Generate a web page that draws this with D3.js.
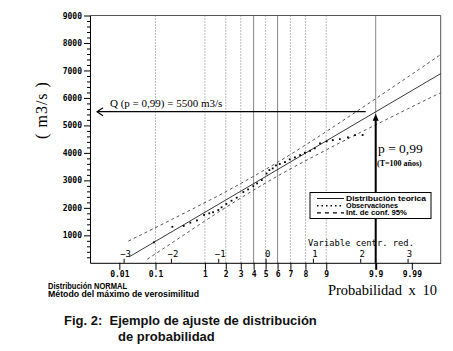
<!DOCTYPE html>
<html>
<head>
<meta charset="utf-8">
<script src="https://cdn.jsdelivr.net/npm/d3@7"></script>
<style>
  body { margin: 0; background: #fff; }
  svg { display: block; }
  .mono { font-family: "DejaVu Sans Mono", monospace; }
  .serif { font-family: "Liberation Serif", "Times New Roman", serif; }
  .narrow { font-family: "Liberation Sans", Arial, sans-serif; font-weight: bold; }
</style>
</head>
<body>
<div id="chart"></div>
<script>
// Chart size
const width = 453;
const height = 351;
const plot = {left: 90, right: 440.7, top: 15.5, bottom: 262.8};

// Probability axis (x 10 labels) and grid
const probTicks = [0.001, 0.01, 0.1, 0.2, 0.3, 0.4, 0.5, 0.6, 0.7, 0.8, 0.9, 0.99, 0.999];
const probLabels = ["0.01", "0.1", "1", "2", "3", "4", "5", "6", "7", "8", "9", "9.9", "9.99"];
const gridProbs = [0.01, 0.1, 0.2, 0.3, 0.4, 0.5, 0.6, 0.7, 0.8, 0.9, 0.99];
const darkGridProbs = [0.4, 0.6, 0.99];

// Reduced variable ticks
const zTicks = [-3, -2, -1, 0, 1, 2, 3];

// Discharge ticks
const qTicks = [1000, 2000, 3000, 4000, 5000, 6000, 7000, 8000, 9000];
const qMinor = d3.range(200, 9000, 200).filter(d => d % 1000 !== 0);

// Fitted distribution (reduced variable z, discharge)
const teoZ = [-2.88, 3.70];
const teoQ = [220, 6885];

// 95% confidence band
const bandZ = [-2.9, -2.5, -2.0, -1.5, -1.0, -0.5, 0, 0.5, 1.0, 1.5, 2.0, 2.5, 3.0, 3.7];
const bandUpper = [790, 1130, 1560, 2000, 2440, 2910, 3400, 3915, 4460, 5025, 5595, 6175, 6755, 7580];
const bandLower = [null, 130, 700, 1275, 1840, 2385, 2905, 3395, 3855, 4305, 4740, 5170, 5600, 6190];

// Observations
const obsZ = [-2.36, -1.97, -1.73, -1.59, -1.45, -1.30, -1.19, -1.11, -1.00, -0.93, -0.83, -0.72,
              -0.61, -0.47, -0.37, -0.26, -0.18, -0.08, 0.02, 0.08, 0.15, 0.22, 0.30, 0.41,
              0.51, 0.62, 0.73, 0.83, 0.94, 1.04, 1.15, 1.29, 1.42, 1.57, 1.74, 1.89, 2.05];
const obsQ = [745, 1310, 1340, 1460, 1545, 1740, 1800, 1840, 1920, 2020, 2140, 2260,
              2370, 2575, 2670, 2790, 2890, 3010, 3250, 3375, 3435, 3545, 3595, 3665,
              3765, 3835, 3920, 4005, 4075, 4165, 4345, 4420, 4465, 4500, 4565, 4645, 4650];

// Design flood
const pDesign = 0.99;
const qDesign = 5500;

// Normal distribution helpers for the probability paper
function normCdf(z) {
    const t = 1 / (1 + 0.3275911 * Math.abs(z) / Math.SQRT2);
    const e = 1 - (((((1.061405429 * t - 1.453152027) * t) + 1.421413741) * t - 0.284496736) * t + 0.254829592) * t * Math.exp(-z * z / 2);
    return z >= 0 ? (1 + e) / 2 : (1 - e) / 2;
}
function probit(p) {
    let lo = -6, hi = 6;
    for (let i = 0; i < 60; i++) {
        const m = (lo + hi) / 2;
        if (normCdf(m) < p) lo = m; else hi = m;
    }
    return (lo + hi) / 2;
}

const svg = d3.select("#chart")
    .append("svg")
    .attr("width", width)
    .attr("height", height);

svg.append("rect").attr("width", width).attr("height", height).attr("fill", "#fff");

const x = d3.scaleLinear().domain([-3.71, 3.70]).range([plot.left, plot.right]);
const y = d3.scaleLinear().domain([0, 9000]).range([plot.bottom, plot.top]);

// Vertical grid lines
svg.append("g")
    .selectAll("line")
    .data(gridProbs)
    .join("line")
    .attr("x1", d => x(probit(d)))
    .attr("x2", d => x(probit(d)))
    .attr("y1", plot.top)
    .attr("y2", plot.bottom)
    .attr("stroke", d => darkGridProbs.includes(d) ? "#111" : "#777")
    .attr("stroke-width", 1)
    .attr("stroke-dasharray", d => darkGridProbs.includes(d) ? "1,1" : "1,2");

// Frame (top and right)
svg.append("path")
    .attr("d", `M${plot.left},${plot.top}H${plot.right}V${plot.bottom}`)
    .attr("fill", "none")
    .attr("stroke", "#555")
    .attr("stroke-width", 1);

// Confidence band
const bandLine = d3.line()
    .defined(d => d[1] != null)
    .x(d => x(d[0]))
    .y(d => y(d[1]))
    .curve(d3.curveMonotoneX);

[bandUpper, bandLower].forEach(arr => {
    svg.append("path")
        .datum(bandZ.map((z, i) => [z, arr[i]]))
        .attr("d", bandLine)
        .attr("fill", "none")
        .attr("stroke", "#444")
        .attr("stroke-width", 0.9)
        .attr("stroke-dasharray", "3,3");
});

// Fitted line
svg.append("path")
    .datum(teoZ.map((z, i) => [z, teoQ[i]]))
    .attr("d", d3.line().x(d => x(d[0])).y(d => y(d[1])))
    .attr("fill", "none")
    .attr("stroke", "#222")
    .attr("stroke-width", 0.9);

// Observations
svg.append("g")
    .selectAll("rect")
    .data(obsZ.map((z, i) => [z, obsQ[i]]))
    .join("rect")
    .attr("x", d => x(d[0]) - 0.9)
    .attr("y", d => y(d[1]) - 0.9)
    .attr("width", 1.8)
    .attr("height", 1.8)
    .attr("fill", "#000");

// Y axis
const yAxisG = svg.append("g")
    .attr("transform", `translate(${plot.left},0)`)
    .call(d3.axisLeft(y).tickValues(qTicks).tickSize(6).tickSizeOuter(0).tickPadding(2).tickFormat(d3.format("d")));
yAxisG.select(".domain").attr("stroke", "#000");
yAxisG.selectAll("text")
    .attr("class", "mono")
    .style("font-size", "8px")
    .style("font-weight", "bold");

svg.append("g")
    .attr("transform", `translate(${plot.left},0)`)
    .call(d3.axisLeft(y).tickValues(qMinor).tickSize(3).tickFormat(""))
    .call(g => g.select(".domain").remove());

// Probability axis
const xAxisG = svg.append("g")
    .attr("transform", `translate(0,${plot.bottom})`)
    .call(d3.axisBottom(x)
        .tickValues(probTicks.map(probit))
        .tickSize(7)
        .tickSizeOuter(0)
        .tickPadding(2)
        .tickFormat((d, i) => probLabels[i]));
xAxisG.select(".domain").attr("stroke", "#000");
xAxisG.selectAll("text")
    .attr("class", "mono")
    .style("font-size", "8px")
    .style("font-weight", "bold");
xAxisG.selectAll(".tick line")
    .attr("stroke-width", (d, i) => probTicks[i] === pDesign ? 2 : 1);

// Reduced variable axis (inside)
const zAxisG = svg.append("g")
    .attr("transform", `translate(0,${plot.bottom})`)
    .call(d3.axisTop(x).tickValues(zTicks).tickSize(4).tickPadding(2));
zAxisG.select(".domain").remove();
zAxisG.selectAll("text")
    .attr("class", "mono")
    .attr("dx", 1.5)
    .style("font-size", "9px");

svg.append("text")
    .attr("class", "mono")
    .attr("x", 361)
    .attr("y", 246)
    .attr("text-anchor", "middle")
    .style("font-size", "8.8px")
    .text("Variable centr. red.");

// Design quantile arrows
const qy = y(qDesign);
const px = x(probit(pDesign));
svg.append("line")
    .attr("x1", plot.left + 7).attr("x2", px - 10)
    .attr("y1", qy).attr("y2", qy)
    .attr("stroke", "#000").attr("stroke-width", 1.2);
svg.append("path")
    .attr("d", `M${plot.left + 13},${qy - 4}L${plot.left + 7},${qy}L${plot.left + 13},${qy + 4}`)
    .attr("fill", "none").attr("stroke", "#000").attr("stroke-width", 1.1);

svg.append("line")
    .attr("x1", px).attr("x2", px)
    .attr("y1", plot.bottom).attr("y2", qy + 8)
    .attr("stroke", "#000").attr("stroke-width", 2);
svg.append("path")
    .attr("d", `M${px},${qy + 2}L${px - 3},${qy + 9}L${px + 3},${qy + 9}Z`)
    .attr("fill", "#000");

svg.append("text")
    .attr("class", "serif")
    .attr("x", 110)
    .attr("y", 107)
    .style("font-size", "11px")
    .text("Q (p = 0,99) = 5500 m3/s");

svg.append("text")
    .attr("class", "serif")
    .attr("x", 378)
    .attr("y", 153)
    .style("font-size", "13.5px")
    .text("p = 0,99");

svg.append("text")
    .attr("class", "serif")
    .attr("x", 377)
    .attr("y", 166)
    .style("font-size", "8px")
    .style("font-weight", "bold")
    .text("(T=100 años)");

// Legend
const legend = svg.append("g");
legend.append("rect")
    .attr("x", 310).attr("y", 192.5)
    .attr("width", 121).attr("height", 26)
    .attr("fill", "#fff").attr("stroke", "#000").attr("stroke-width", 1);

const legendItems = [
    {label: "Distribución teorica", dash: null, width: 0.9, len: 80},
    {label: "Observaciones", dash: "1.5,3", width: 1.6, len: 52},
    {label: "Int. de conf. 95%", dash: "4,4", width: 1.1, len: 61}
];
legendItems.forEach((d, i) => {
    const ly = 198.5 + i * 7.2;
    legend.append("line")
        .attr("x1", 317).attr("x2", 344)
        .attr("y1", ly).attr("y2", ly)
        .attr("stroke", "#000")
        .attr("stroke-width", d.width)
        .attr("stroke-dasharray", d.dash);
    legend.append("text")
        .attr("class", "narrow")
        .attr("x", 346)
        .attr("y", ly + 2.4)
        .attr("textLength", d.len)
        .attr("lengthAdjust", "spacingAndGlyphs")
        .style("font-size", "6.8px")
        .text(d.label);
});

// Axis titles
svg.append("text")
    .attr("class", "serif")
    .attr("transform", "translate(47,110) rotate(-90)")
    .attr("text-anchor", "middle")
    .style("font-size", "16px")
    .style("letter-spacing", "1px")
    .text("( m3/s )");

svg.append("text")
    .attr("class", "serif")
    .attr("x", 437)
    .attr("y", 295)
    .attr("text-anchor", "end")
    .style("font-size", "14.5px")
    .style("word-spacing", "3px")
    .text("Probabilidad x 10");

svg.append("text")
    .attr("class", "narrow")
    .attr("x", 48)
    .attr("y", 288.5)
    .attr("textLength", 79)
    .attr("lengthAdjust", "spacingAndGlyphs")
    .style("font-size", "8.2px")
    .text("Distribución NORMAL");

svg.append("text")
    .attr("class", "narrow")
    .attr("x", 48)
    .attr("y", 297)
    .attr("textLength", 151)
    .attr("lengthAdjust", "spacingAndGlyphs")
    .style("font-size", "8.2px")
    .text("Método del máximo de verosimilitud");

// Caption
svg.append("text")
    .attr("x", 64)
    .attr("y", 325)
    .style("font-family", "'Liberation Sans', Arial, sans-serif")
    .style("font-weight", "bold")
    .style("font-size", "13px")
    .style("fill", "#111")
    .attr("xml:space", "preserve")
    .text("Fig. 2:  Ejemplo de ajuste de distribución");

svg.append("text")
    .attr("x", 118)
    .attr("y", 341)
    .style("font-family", "'Liberation Sans', Arial, sans-serif")
    .style("font-weight", "bold")
    .style("font-size", "13px")
    .style("fill", "#111")
    .text("de probabilidad");
</script>
</body>
</html>
